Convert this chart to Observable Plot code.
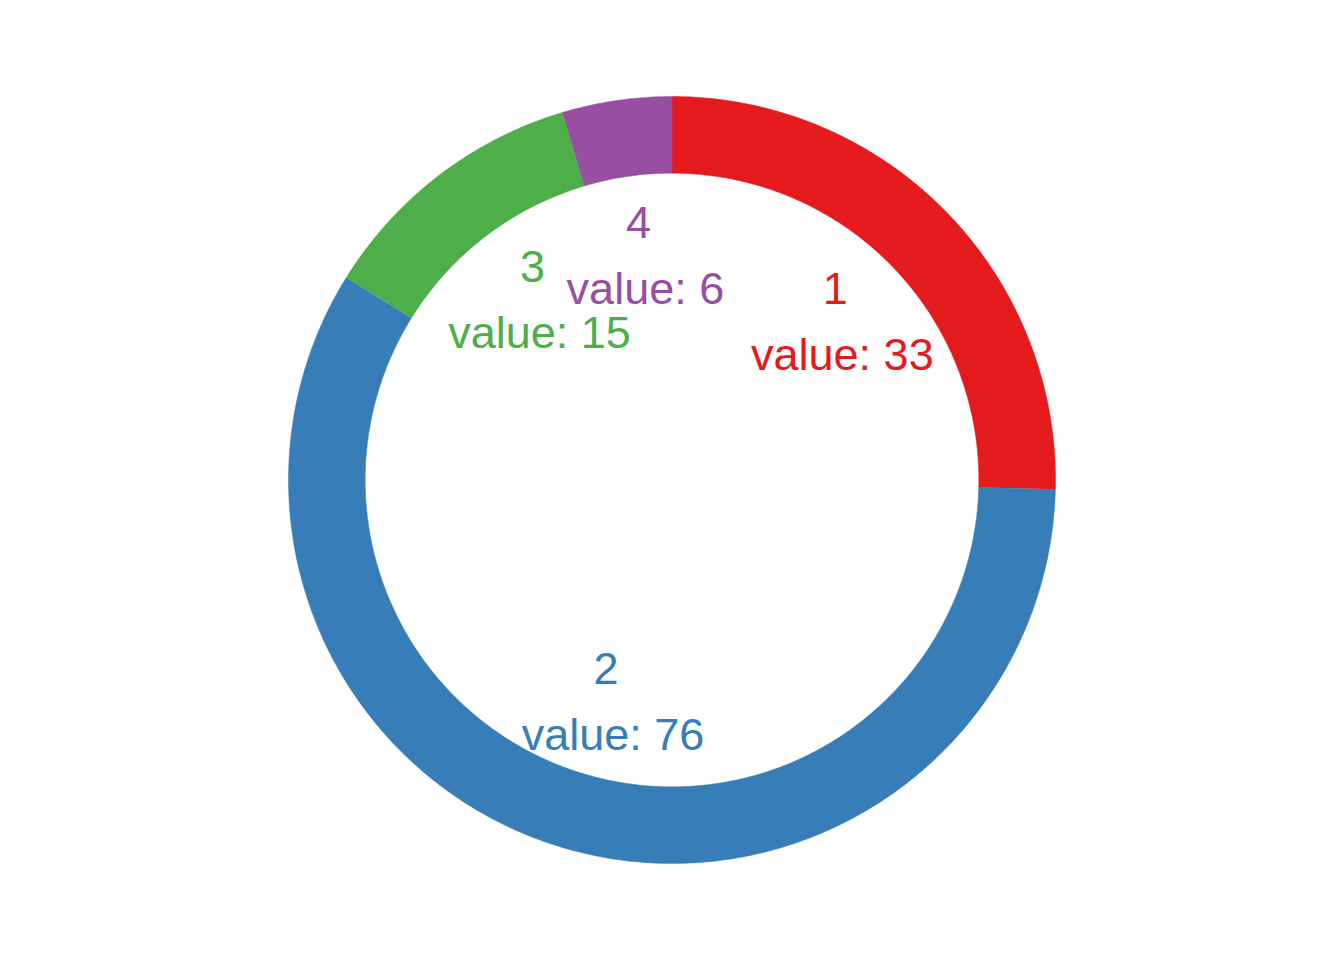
<!DOCTYPE html>
<html>
<head>
<meta charset="utf-8">
<script src="https://cdn.jsdelivr.net/npm/d3@7"></script>
<script src="https://cdn.jsdelivr.net/npm/@observablehq/plot@0.6"></script>
<style>
  html, body { margin: 0; padding: 0; background: #fff; }
  #chart { width: 1344px; height: 960px; }
</style>
</head>
<body>
<div id="chart"></div>
<script>
// ---- data ----
const categories = ["1", "2", "3", "4"];
const values = [33, 76, 15, 6];
const colors = ["#E41A1C", "#377EB8", "#4DAF4A", "#984EA3"];

// ---- geometry (in data units: outer radius = 1) ----
const innerR = 0.8;
const outerR = 1.0;
const labelR = 0.597;
const pxPerUnit = 383.5;
const cx = 671.5, cy = 479.5;
const W = 1344, H = 960;

const total = d3.sum(values);
let acc = 0;
const slices = categories.map((name, i) => {
  const a0 = acc / total * 2 * Math.PI;
  acc += values[i];
  const a1 = acc / total * 2 * Math.PI;
  return {name, value: values[i], a0, a1, mid: (a0 + a1) / 2};
});

// polygon points for each ring segment
const ringPts = [];
for (const s of slices) {
  const n = Math.max(4, Math.ceil((s.a1 - s.a0) / (Math.PI / 360)));
  for (let k = 0; k <= n; k++) {
    const a = s.a0 + (s.a1 - s.a0) * k / n;
    ringPts.push({name: s.name, x: outerR * Math.sin(a), y: outerR * Math.cos(a)});
  }
  for (let k = n; k >= 0; k--) {
    const a = s.a0 + (s.a1 - s.a0) * k / n;
    ringPts.push({name: s.name, x: innerR * Math.sin(a), y: innerR * Math.cos(a)});
  }
}

const labels = slices.map(s => ({
  name: s.name,
  x: labelR * Math.sin(s.mid),
  y: labelR * Math.cos(s.mid),
  top: s.name,
  bottom: "value: " + s.value
}));

const font = "'Liberation Sans', Arial, Helvetica, sans-serif";

const chart = Plot.plot({
  width: W,
  height: H,
  margin: 0,
  x: {domain: [-cx / pxPerUnit, (W - cx) / pxPerUnit], axis: null},
  y: {domain: [-(H - cy) / pxPerUnit, cy / pxPerUnit], axis: null},
  color: {domain: categories, range: colors},
  style: {fontFamily: font, background: "#fff"},
  marks: [
    Plot.line(ringPts, {x: "x", y: "y", z: "name", fill: "name", stroke: "name", strokeWidth: 0.5, curve: "linear"}),
    Plot.text(labels, {x: "x", y: "y", text: "top", fill: "name", fontSize: 45, dy: -30, dx: -0.5, lineAnchor: "middle"}),
    Plot.text(labels, {x: "x", y: "y", text: "bottom", fill: "name", fontSize: 45, dy: 36, dx: 6.5, lineAnchor: "middle"})
  ]
});
document.getElementById("chart").appendChild(chart);
</script>
</body>
</html>
